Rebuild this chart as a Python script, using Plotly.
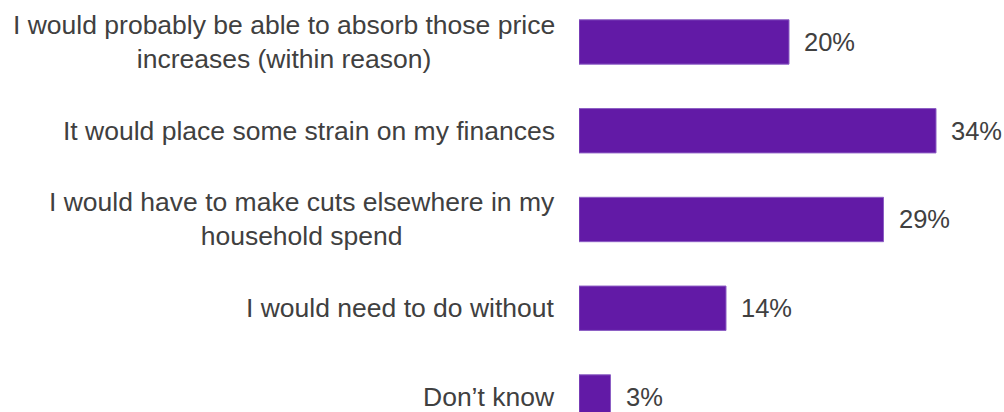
import plotly.graph_objects as go

# Survey responses (share of respondents, %)
categories = [
    "I would probably be able to absorb those price<br>increases (within reason)",
    "It would place some strain on my finances",
    "I would have to make cuts elsewhere in my<br>household spend",
    "I would need to do without",
    "Don\u2019t know",
]
values = [20, 34, 29, 14, 3]
value_labels = ["20%", "34%", "29%", "14%", "3%"]

BAR_COLOR = "#621AA6"
TEXT_COLOR = "#404040"
FONT = "Liberation Sans, Arial, sans-serif"
LABEL_SIZE = 26.5
VALUE_SIZE = 25.5

positions = list(range(len(categories)))

fig = go.Figure(
    go.Bar(
        x=values,
        y=positions,
        orientation="h",
        width=0.5,
        marker=dict(color=BAR_COLOR, line=dict(color="#8C5EC4", width=1)),
        hoverinfo="skip",
    )
)

annotations = []
# Category labels, right-aligned against the bars, lines centred
for pos, label in zip(positions, categories):
    annotations.append(
        dict(
            x=0, y=pos, xref="x", yref="y",
            text=label, showarrow=False,
            xanchor="right", yanchor="middle", align="center",
            xshift=-22,
            font=dict(family=FONT, size=LABEL_SIZE, color=TEXT_COLOR),
        )
    )
# Value labels to the right of each bar
for pos, v, lab in zip(positions, values, value_labels):
    annotations.append(
        dict(
            x=v, y=pos, xref="x", yref="y",
            text=lab, showarrow=False,
            xanchor="left", yanchor="middle",
            xshift=13,
            font=dict(family=FONT, size=VALUE_SIZE, color=TEXT_COLOR),
        )
    )

fig.update_layout(
    width=1004,
    height=412,
    margin=dict(l=579, r=0, t=0, b=0),
    paper_bgcolor="white",
    plot_bgcolor="white",
    showlegend=False,
    annotations=annotations,
    xaxis=dict(
        range=[0, 425 / 10.5],
        visible=False,
        fixedrange=True,
    ),
    yaxis=dict(
        range=[4.169, -0.473],
        visible=False,
        fixedrange=True,
    ),
)

fig.write_html("out.html")
